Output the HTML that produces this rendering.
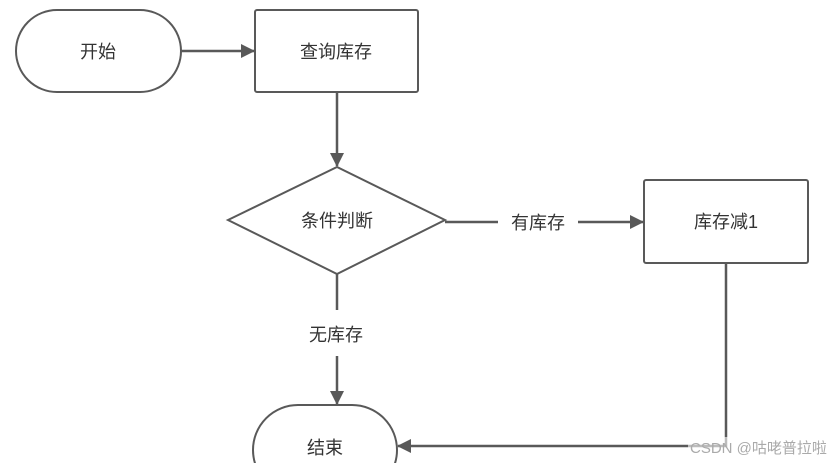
<!DOCTYPE html>
<html><head><meta charset="utf-8"><style>
html,body{margin:0;padding:0;background:#fff;width:835px;height:463px;overflow:hidden}
svg{display:block;overflow:hidden}
text{font-family:"Liberation Sans","Noto Sans CJK SC",sans-serif;font-size:18px;fill:#333}
</style></head><body>
<svg width="835" height="463" viewBox="0 0 835 463" xmlns="http://www.w3.org/2000/svg">
<defs><marker id="b" markerWidth="14" markerHeight="14" refX="13" refY="7" orient="auto" markerUnits="userSpaceOnUse"><path d="M0,0 L14,7 L0,14 z" fill="#595959"/></marker></defs>
<g fill="#fff" stroke="#595959" stroke-width="2">
<rect x="16" y="10" width="165" height="82" rx="41"/>
<rect x="255" y="10" width="163" height="82" rx="2"/>
<polygon points="228,220 337,167 445,220 337,274"/>
<rect x="644" y="180" width="164" height="83" rx="2"/>
<rect x="253" y="405" width="144" height="90" rx="45"/>
</g>
<g stroke="#595959" stroke-width="2.5" fill="none">
<line x1="181" y1="51" x2="254" y2="51" marker-end="url(#b)"/>
<line x1="337" y1="92" x2="337" y2="166" marker-end="url(#b)"/>
<line x1="445" y1="222" x2="498" y2="222"/>
<line x1="578" y1="222" x2="643" y2="222" marker-end="url(#b)"/>
<line x1="337" y1="274" x2="337" y2="310"/>
<line x1="337" y1="356" x2="337" y2="404" marker-end="url(#b)"/>
<polyline points="726,263 726,446 398,446" marker-end="url(#b)"/>
</g>
<g text-anchor="middle">
<text x="98" y="58">开始</text>
<text x="336" y="58">查询库存</text>
<text x="337" y="227">条件判断</text>
<text x="538" y="229">有库存</text>
<text x="726" y="228">库存减1</text>
<text x="336" y="341">无库存</text>
<text x="325" y="454">结束</text>
</g>
<rect x="688" y="437" width="147" height="24" fill="#fff" opacity="0.6"/>
<text x="690" y="453" style="font-size:15px;fill:#aaa">CSDN @咕咾普拉啦</text>
</svg>
</body></html>
